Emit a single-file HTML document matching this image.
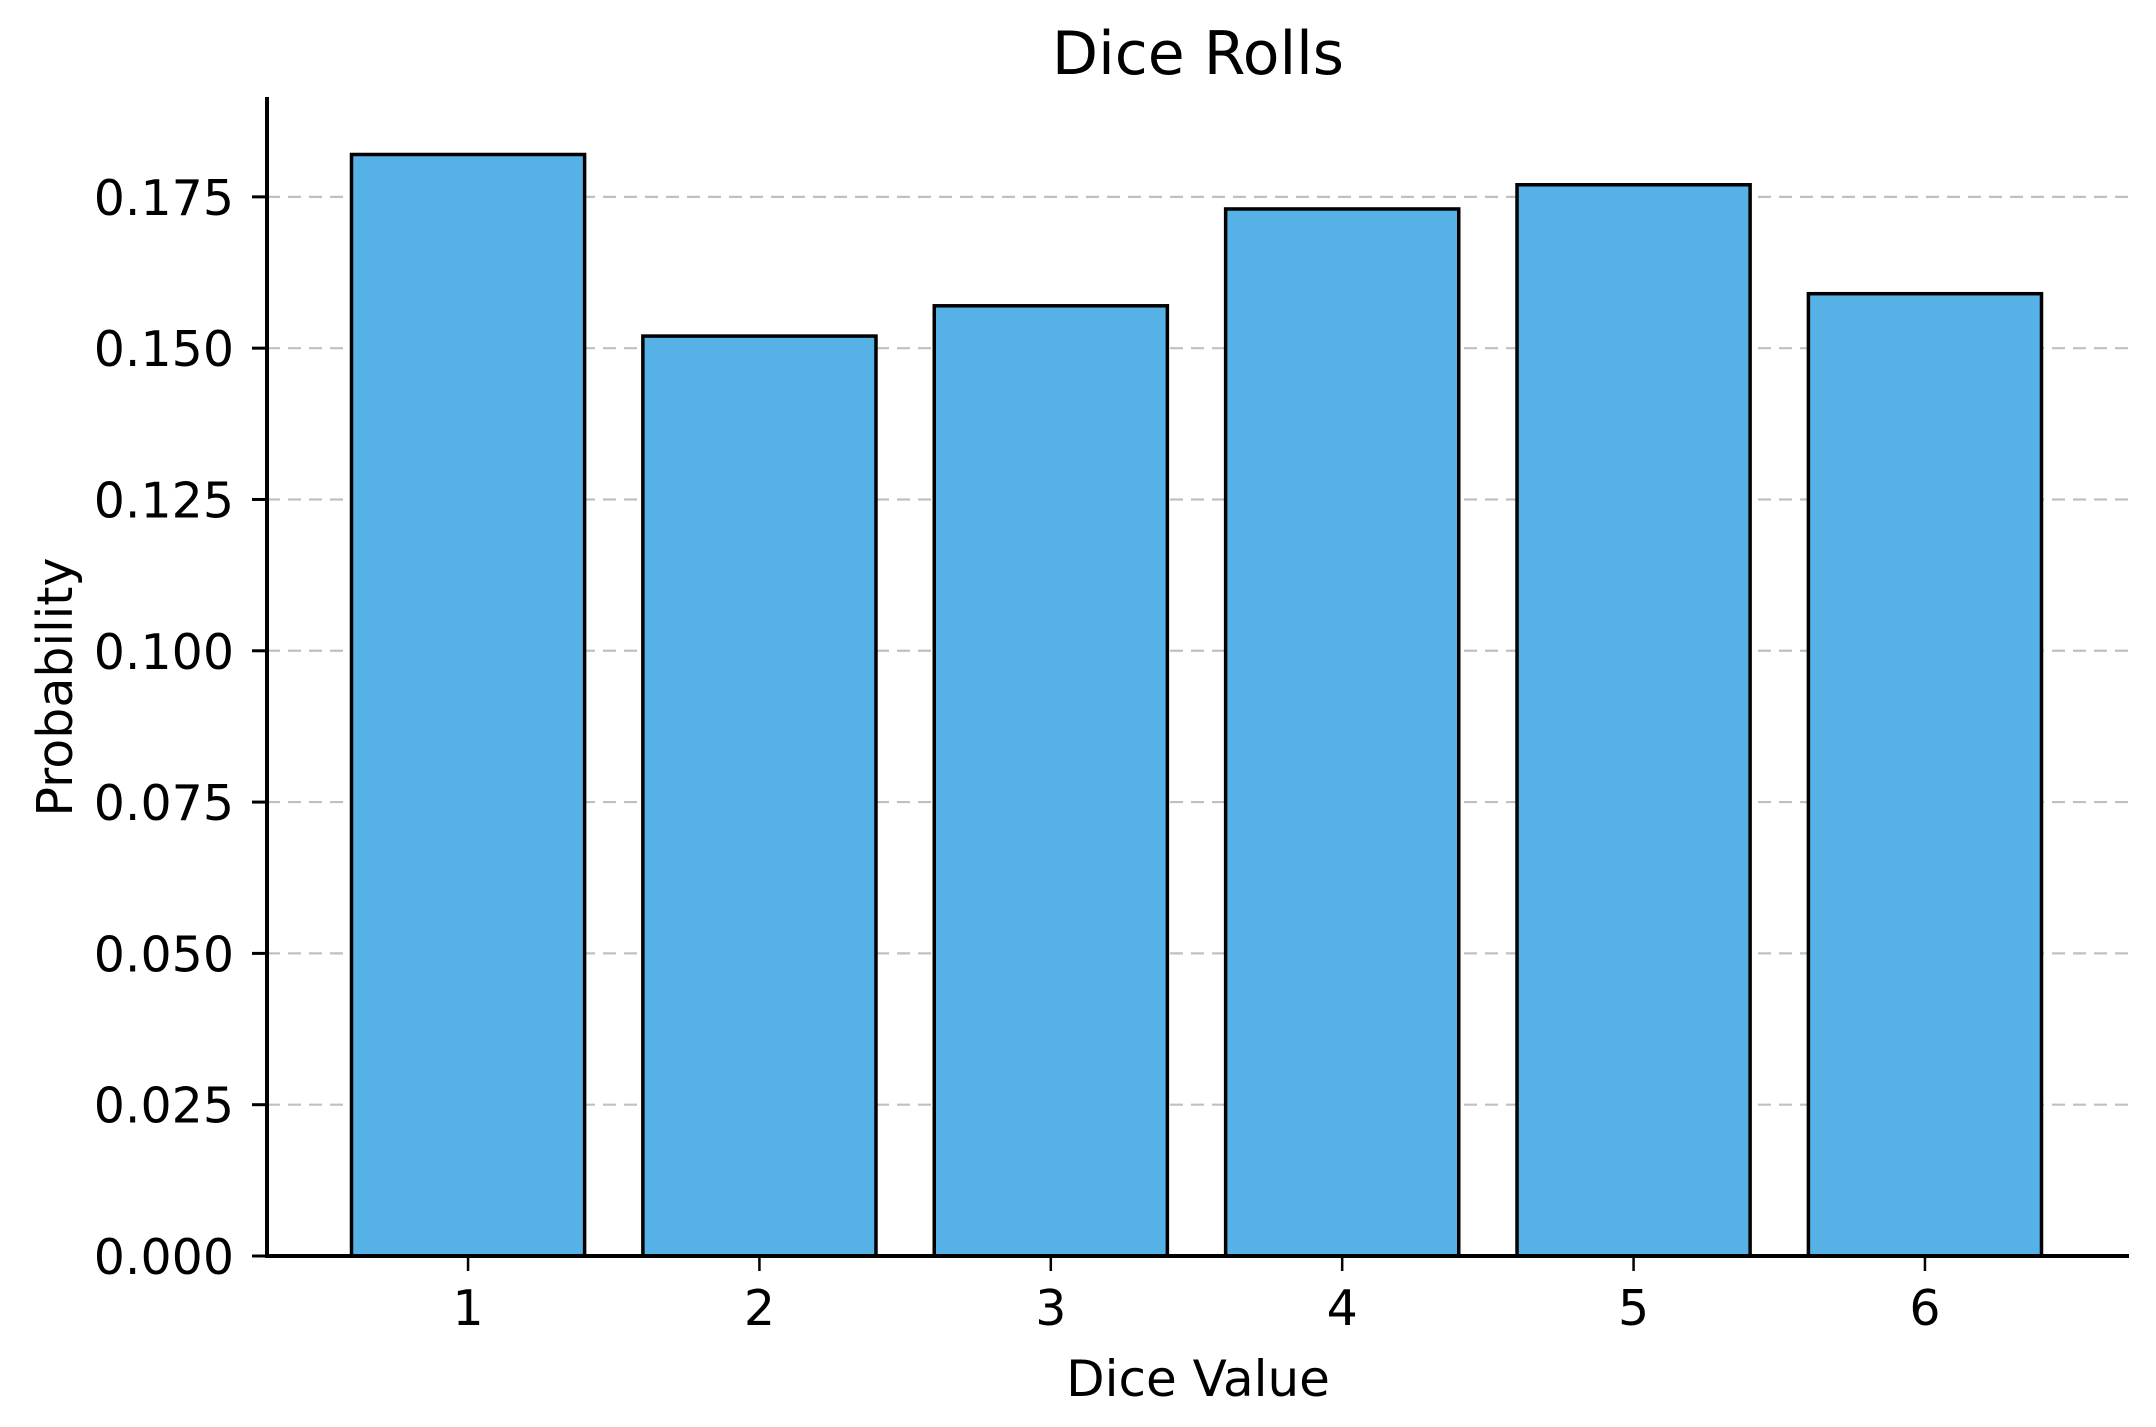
<!DOCTYPE html>
<html><head><meta charset="utf-8"><style>
html,body{margin:0;padding:0;background:#fff;}
svg{display:block;font-family:"DejaVu Sans","Liberation Sans",sans-serif;}
</style></head><body>
<svg id="chart" width="2156" height="1427" viewBox="0 0 2156 1427" xmlns="http://www.w3.org/2000/svg">
<rect width="2156" height="1427" fill="#fff"/>
<g id="grid"></g>
<g id="bars"></g>
<g id="axes"></g>
<text x="1198" y="74" font-size="60" text-anchor="middle" fill="#000">Dice Rolls</text>
<text x="1198" y="1396" font-size="50" text-anchor="middle" fill="#000">Dice Value</text>
<text transform="translate(72,687) rotate(-90)" font-size="49" text-anchor="middle" fill="#000">Probability</text>
</svg>
<script>
const categories = [1, 2, 3, 4, 5, 6];
const probabilities = [0.182, 0.152, 0.157, 0.173, 0.177, 0.159];
const yTicks = [0, 0.025, 0.05, 0.075, 0.1, 0.125, 0.15, 0.175];
const yTickLabels = ["0.000","0.025","0.050","0.075","0.100","0.125","0.150","0.175"];

const NS = "http://www.w3.org/2000/svg";
const plotLeft = 267, plotRight = 2126, plotTop = 97, plotBottom = 1256;
const axisEnd = 2129;
const yMax = 0.1915;
const xMin = 0.31, xMax = 6.69;
function xScale(v){ return plotLeft + (v - xMin) / (xMax - xMin) * (plotRight - plotLeft); }
function yScale(v){ return plotBottom - v / yMax * (plotBottom - plotTop); }
function mk(tag, attrs, parent){ const e = document.createElementNS(NS, tag); for (const k in attrs) e.setAttribute(k, attrs[k]); parent.appendChild(e); return e; }

const gridG = document.getElementById('grid');
const barsG = document.getElementById('bars');
const axesG = document.getElementById('axes');

yTicks.forEach((t, i) => {
  const y = yScale(t);
  if (t > 0) {
    const g = mk('line', {x1: plotLeft, x2: axisEnd, y1: y, y2: y, stroke: '#c0c0c0', 'stroke-width': 2.2, 'stroke-dasharray': '13 8'}, gridG);
    
    
  }
  const tk = mk('line', {x1: plotLeft - 15, x2: plotLeft, y1: y, y2: y, stroke: '#000', 'stroke-width': 3}, axesG);
  
  
  const lb = mk('text', {x: plotLeft - 33, y: y + 18, 'font-size': 49, 'text-anchor': 'end', fill: '#000'}, axesG);
  lb.textContent = yTickLabels[i];
  
  
});

const bw = 0.8;
categories.forEach((c, i) => {
  const x0 = xScale(c - bw / 2), x1 = xScale(c + bw / 2);
  const y = yScale(probabilities[i]);
  const r = mk('rect', {x: x0, y: y, width: x1 - x0, height: plotBottom - y, fill: '#56b2e6', stroke: '#000', 'stroke-width': 3.5}, barsG);
  
  
  const xc = xScale(c);
  const tk = mk('line', {x1: xc, x2: xc, y1: plotBottom, y2: plotBottom + 15, stroke: '#000', 'stroke-width': 2.5}, axesG);
  
  
  const lb = mk('text', {x: xc, y: 1325, 'font-size': 49, 'text-anchor': 'middle', fill: '#000'}, axesG);
  lb.textContent = String(c);
  
  
});

const ly = mk('line', {x1: plotLeft, x2: plotLeft, y1: plotTop, y2: plotBottom + 2, stroke: '#000', 'stroke-width': 4}, axesG);


const lx = mk('line', {x1: plotLeft - 2, x2: axisEnd, y1: plotBottom, y2: plotBottom, stroke: '#000', 'stroke-width': 4}, axesG);


</script>
</body></html>
